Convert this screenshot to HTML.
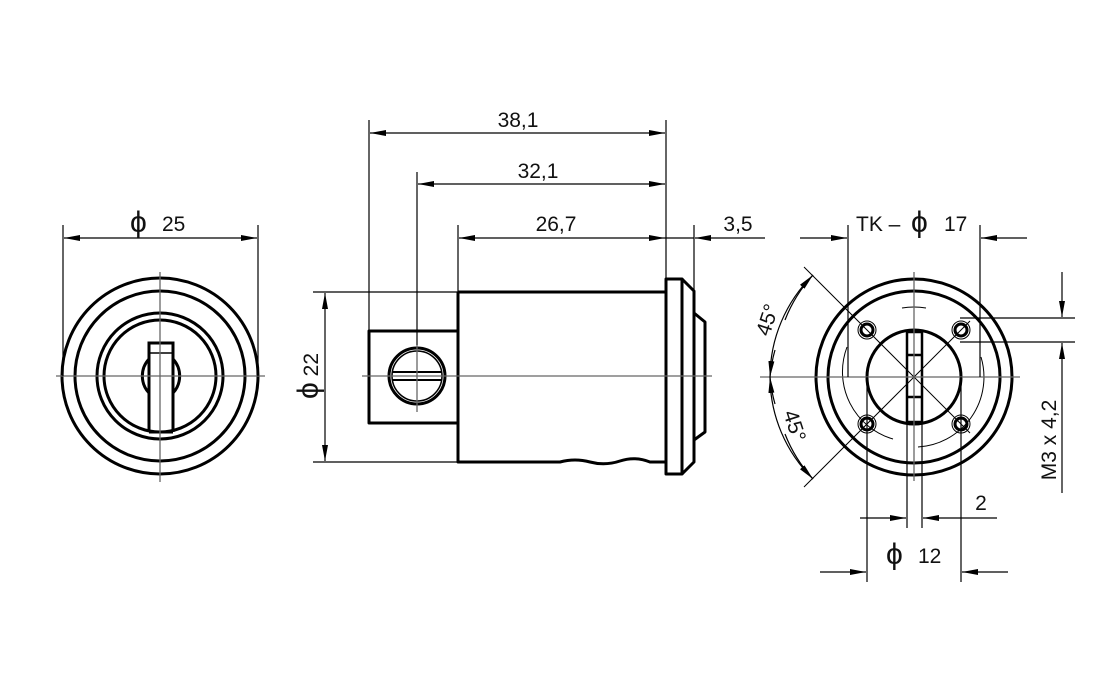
<!DOCTYPE html>
<html><head><style>html,body{margin:0;padding:0;background:#fff}svg{display:block}text{font-family:"Liberation Sans",sans-serif;font-size:21px;fill:#111}.p{font-size:30px}</style></head><body>
<svg width="1095" height="680" viewBox="0 0 1095 680" xmlns="http://www.w3.org/2000/svg">
<defs>
<marker id="a" viewBox="0 0 16 6" refX="16" refY="3" markerWidth="16" markerHeight="6" markerUnits="userSpaceOnUse" orient="auto"><path d="M0,0L16,3L0,6z" fill="#000"/></marker>
</defs>
<g fill="none" stroke="#000">
<!-- LEFT VIEW -->
<g stroke-width="3">
<circle cx="160" cy="376" r="98"/><circle cx="160" cy="376" r="85"/>
<circle cx="160" cy="376" r="63"/><circle cx="160" cy="376" r="56"/>
<path d="M149,432V343H173V432"/>
<path d="M149,353H173" stroke-width="1.5"/>
<path d="M149,393A25,25 0 0 1 149,359M173,359A25,25 0 0 1 173,393"/>
</g>
<path d="M149,432H173" stroke-width="3"/>
<g stroke="#666" stroke-width="1.3"><path d="M56,376H265M160,272V482"/></g>
<g stroke-width="1.2"><path d="M63,225V376M258,225V376"/><path d="M160,238H64" marker-end="url(#a)"/><path d="M160,238H257" marker-end="url(#a)"/></g>

<!-- MIDDLE VIEW -->
<g stroke-width="3" stroke-linejoin="round">
<path d="M458,292H666"/>
<path d="M458,292V462H560 Q575,458 590,462 T620,461 T650,462 H666"/>
<path d="M458,331H369V423H458"/>
<path d="M666,279H682V474H666Z"/>
<path d="M682,279L694,291V462L682,474"/>
<path d="M694,313L705,322V432L694,440"/>
<circle cx="417" cy="376" r="28"/>
</g>
<circle cx="417" cy="376" r="25" stroke-width="1.5"/>
<path d="M392,372H442M392,380H442" stroke-width="2"/>
<g stroke="#666" stroke-width="1.3"><path d="M362,376H712M417,345V412"/></g>
<g stroke-width="1.2">
<path d="M313,292H458M313,462H458"/>
<path d="M325,376V293" marker-end="url(#a)"/><path d="M325,376V461" marker-end="url(#a)"/>
<path d="M369,120V331M417,172V345M458,225V292M666,120V279M694,225V291"/>
<path d="M520,133H370" marker-end="url(#a)"/><path d="M520,133H665" marker-end="url(#a)"/>
<path d="M540,184H418" marker-end="url(#a)"/><path d="M540,184H665" marker-end="url(#a)"/>
<path d="M560,238H459" marker-end="url(#a)"/><path d="M560,238H665" marker-end="url(#a)"/>
<path d="M665,238H694"/><path d="M765,238H695" marker-end="url(#a)"/>
</g>

<!-- RIGHT VIEW -->
<g stroke-width="3">
<circle cx="914" cy="377" r="98"/><circle cx="914" cy="377" r="86"/>
<circle cx="914" cy="377" r="47"/>
<path d="M907,332V422H922V332Z" stroke-width="2.5"/>
<path d="M907,355H922M907,397H922" stroke-width="2.5"/>
<circle cx="867" cy="330" r="6"/><circle cx="961" cy="330" r="6"/>
<circle cx="867" cy="424" r="6"/><circle cx="961" cy="424" r="6"/>
</g>
<g stroke-width="1">
<circle cx="867" cy="330" r="9"/><circle cx="961" cy="330" r="9"/>
<circle cx="867" cy="424" r="9"/><circle cx="961" cy="424" r="9"/>
<path d="M847,347A70,70 0 0 0 893,439M902,308A70,70 0 0 1 926,308M918,447A70,70 0 0 0 981,357"/>
<path d="M804,267L970,433M970,321L804,487"/>
</g>
<g stroke="#666" stroke-width="1.3"><path d="M760,377H1020M914,272V481"/></g>
<g stroke-width="1.2">
<path d="M848,225V377M980,225V377"/>
<path d="M800,238H847" marker-end="url(#a)"/><path d="M1027,238H981" marker-end="url(#a)"/>
<path d="M770,377A144,144 0 0 1 813,275"/><path d="M785,320A144,144 0 0 1 813,275" marker-end="url(#a)"/>
<path d="M775,350A144,144 0 0 0 770,377" marker-end="url(#a)"/>
<path d="M770,377A144,144 0 0 0 813,479"/><path d="M785,434A144,144 0 0 0 813,479" marker-end="url(#a)"/>
<path d="M775,404A144,144 0 0 1 770,377" marker-end="url(#a)"/>
<path d="M960,318H1075M960,342H1075"/>
<path d="M1062,272V317" marker-end="url(#a)"/><path d="M1062,493V343" marker-end="url(#a)"/>
<path d="M907,422V528M922,422V528"/>
<path d="M860,518H906" marker-end="url(#a)"/><path d="M997,518H923" marker-end="url(#a)"/>
<path d="M867,377V582M961,377V582"/>
<path d="M820,572H866" marker-end="url(#a)"/><path d="M1008,572H962" marker-end="url(#a)"/>
</g>
</g>
<!-- TEXT -->
<text x="130" y="232" class="p">ϕ</text><text x="162" y="231">25</text>
<text transform="translate(318,376) rotate(-90)" text-anchor="middle"><tspan class="p">ϕ</tspan> 22</text>
<text x="518" y="127" text-anchor="middle">38,1</text>
<text x="538" y="178" text-anchor="middle">32,1</text>
<text x="556" y="231" text-anchor="middle">26,7</text>
<text x="738" y="231" text-anchor="middle">3,5</text>
<text x="856" y="231">TK –</text><text x="911" y="232" class="p">ϕ</text><text x="944" y="231">17</text>
<text transform="translate(774,322) rotate(-72)" text-anchor="middle">45°</text>
<text transform="translate(788,428) rotate(72)" text-anchor="middle">45°</text>
<text transform="translate(1056,440) rotate(-90)" text-anchor="middle">M3 x 4,2</text>
<text x="981" y="510" text-anchor="middle">2</text>
<text x="886" y="564" class="p">ϕ</text><text x="918" y="563">12</text>
</svg>
</body></html>
